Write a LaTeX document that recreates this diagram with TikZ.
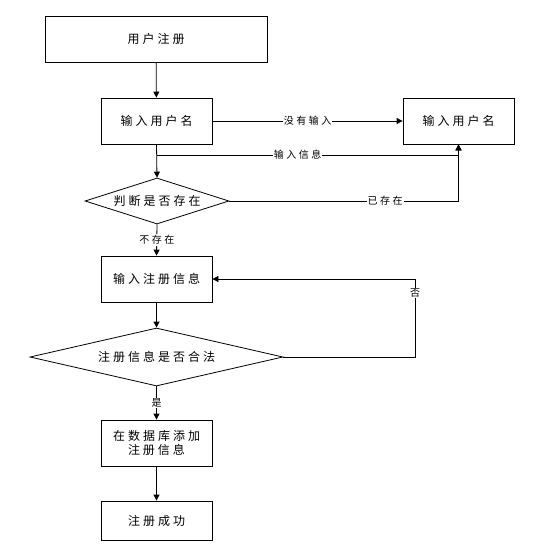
\documentclass[tikz,border=0pt]{standalone}
\usepackage{fontspec}
\newfontfamily\cjk[LetterSpace=25]{Noto Sans CJK SC}
\usetikzlibrary{positioning, shapes.geometric, arrows.meta}

\begin{document}
\begin{tikzpicture}[x=1pt, y=-1pt,
    box/.style={draw, line width=0.8pt, minimum width=111pt, minimum height=46pt, inner sep=0pt, font=\cjk\fontsize{12}{14}\selectfont, align=center},
    decide/.style={draw, diamond, line width=0.8pt, inner sep=0pt, font=\cjk\fontsize{12}{14}\selectfont},
    lbl/.style={fill=white, inner sep=1pt, font=\cjk\fontsize{10}{11}\selectfont},
    arr/.style={line width=0.8pt, -{Triangle[length=6pt, width=6pt]}}]
    \useasboundingbox (0,0) rectangle (540,554);

    % Boxes
    \node[box, minimum width=222pt] (reg) at (156,39) {用户注册};
    \node[box] (inname) at (156.5,121) {输入用户名};
    \node[box] (inname2) at (458.5,121) {输入用户名};
    \node[box] (info) at (156.5,279) {输入注册信息};
    \node[box] (add) at (156.5,443) {在数据库添加\\注册信息};
    \node[box, minimum height=39pt] (ok) at (156.5,520.5) {注册成功};
    % Decisions
    \node[decide, aspect=3.13, minimum width=144pt, minimum height=46pt] (judge) at (157,201) {判断是否存在};
    \node[decide, aspect=4.36, minimum width=253pt, minimum height=58pt] (legal) at (156.5,357) {注册信息是否合法};

    % Connectors
    \coordinate (split) at (157,155);
    \coordinate (ret) at (415,279);
    \draw[arr] (reg) -- (inname);
    \draw[arr] (inname) -- node[lbl] (l1) {没有输入} (inname2);
    \draw[arr] (inname.south) -- (judge.north);
    \draw[arr] (split) -| node[lbl, pos=0.233] (l2) {输入信息} (inname2.south);
    \draw[arr] (judge.east) -| node[lbl, pos=0.34] (l3) {已存在} (inname2.south);
    \draw[arr] (judge.south) -- node[lbl] (l4) {不存在} (info.north);
    \draw[arr] (info) -- (legal.north);
    \draw[arr] (legal.east) -| node[lbl, pos=0.91] (l5) {否} (ret) -- (info.east);
    \draw[arr] (legal.south) -- node[lbl] (l6) {是} (add.north);
    \draw[arr] (add) -- (ok);
\end{tikzpicture}
\end{document}
